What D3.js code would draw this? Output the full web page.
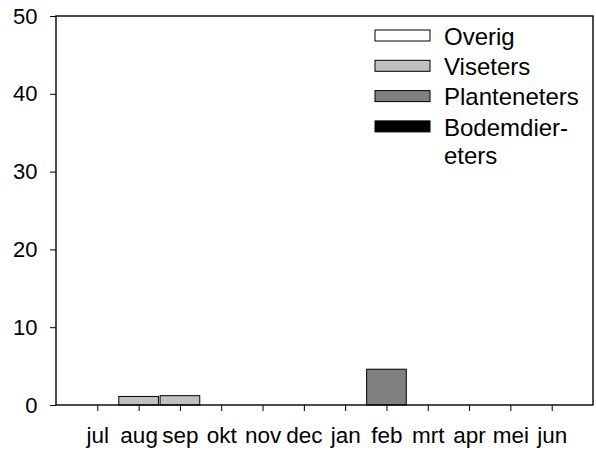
<!DOCTYPE html>
<html>
<head>
<meta charset="utf-8">
<script src="https://cdn.jsdelivr.net/npm/d3@7"></script>
<style>
  body { margin: 0; background: #fff; }
  text { font-family: "Liberation Sans", Arial, sans-serif; fill: #000; }
</style>
</head>
<body>
<div id="chart"></div>
<script>
// months on the x axis
var months = ["jul", "aug", "sep", "okt", "nov", "dec", "jan", "feb", "mrt", "apr", "mei", "jun"];

// one array per group, stacked bottom to top
var bodemdiereters = [0, 0, 0, 0, 0, 0, 0, 0, 0, 0, 0, 0];
var planteneters   = [0, 0, 0, 0, 0, 0, 0, 4.6, 0, 0, 0, 0];
var viseters       = [0, 1.1, 1.2, 0, 0, 0, 0, 0, 0, 0, 0, 0];
var overig         = [0, 0, 0, 0, 0, 0, 0, 0, 0, 0, 0, 0];

var yTicks = [0, 10, 20, 30, 40, 50];

var seriesNames = ["Bodemdiereters", "Planteneters", "Viseters", "Overig"];
var seriesColors = ["#000000", "#808080", "#c0c0c0", "#ffffff"];

var width = 596, height = 454;
var margin = {top: 16, right: 3, bottom: 49, left: 56};
var w = width - margin.left - margin.right,
    h = height - margin.top - margin.bottom;

var svg = d3.select("#chart")
  .append("svg")
    .attr("width", width)
    .attr("height", height)
  .append("g")
    .attr("transform", "translate(" + margin.left + "," + margin.top + ")");

// table for the stack
var table = months.map(function(m, i) {
  return {month: m, Bodemdiereters: bodemdiereters[i], Planteneters: planteneters[i],
          Viseters: viseters[i], Overig: overig[i]};
});
var stacked = d3.stack().keys(seriesNames)(table);

// linear x so the ticks sit at month centres with half a slot of padding
var x = d3.scaleLinear().domain([0, 13]).range([0, w]);
var slot = x(1) - x(0);
var barW = slot * 0.96;

var y = d3.scaleLinear().domain([0, 50]).range([h, 0]);

// bars
svg.selectAll("g.layer")
  .data(stacked)
  .enter().append("g")
    .attr("class", "layer")
    .attr("fill", function(d, i) { return seriesColors[i]; })
  .selectAll("rect")
  .data(function(d) { return d.filter(function(p) { return p[1] - p[0] > 0; }); })
  .enter().append("rect")
    .attr("x", function(d) { return x(months.indexOf(d.data.month) + 1) - barW / 2; })
    .attr("y", function(d) { return y(d[1]); })
    .attr("width", barW)
    .attr("height", function(d) { return y(d[0]) - y(d[1]); })
    .attr("stroke", "#000")
    .attr("stroke-width", 1);

// frame
svg.append("rect")
  .attr("width", w)
  .attr("height", h)
  .attr("fill", "none")
  .attr("stroke", "#000")
  .attr("stroke-width", 1.4);

// y axis
var yAxis = svg.append("g")
  .call(d3.axisLeft(y).tickValues(yTicks).tickSize(6).tickPadding(12.5));
yAxis.select(".domain").remove();
yAxis.selectAll("text").style("font-size", "22px");

// x axis
var xAxis = svg.append("g")
  .attr("transform", "translate(0," + h + ")")
  .call(d3.axisBottom(x)
    .tickValues(d3.range(1, 13))
    .tickFormat(function(d) { return months[d - 1]; })
    .tickSize(6)
    .tickPadding(16));
xAxis.select(".domain").remove();
xAxis.selectAll("text").style("font-size", "22.5px");

// legend, top to bottom
var legendNames = ["Overig", "Viseters", "Planteneters", "Bodemdier-"];
var legendColors = ["#ffffff", "#c0c0c0", "#808080", "#000000"];
var legend = svg.append("g").attr("transform", "translate(319,0)");
legendNames.forEach(function(name, i) {
  var row = legend.append("g").attr("transform", "translate(0," + (14 + i * 30.3) + ")");
  row.append("rect")
    .attr("width", 55)
    .attr("height", 11)
    .attr("fill", legendColors[i])
    .attr("stroke", "#000")
    .attr("stroke-width", 1);
  row.append("text")
    .attr("x", 69)
    .attr("y", 6)
    .attr("dy", "0.36em")
    .style("font-size", "24px")
    .text(name);
});
legend.append("text")
  .attr("x", 69)
  .attr("y", 14 + 3 * 30.3 + 6 + 28)
  .attr("dy", "0.36em")
  .style("font-size", "24px")
  .text("eters");
</script>
</body>
</html>
